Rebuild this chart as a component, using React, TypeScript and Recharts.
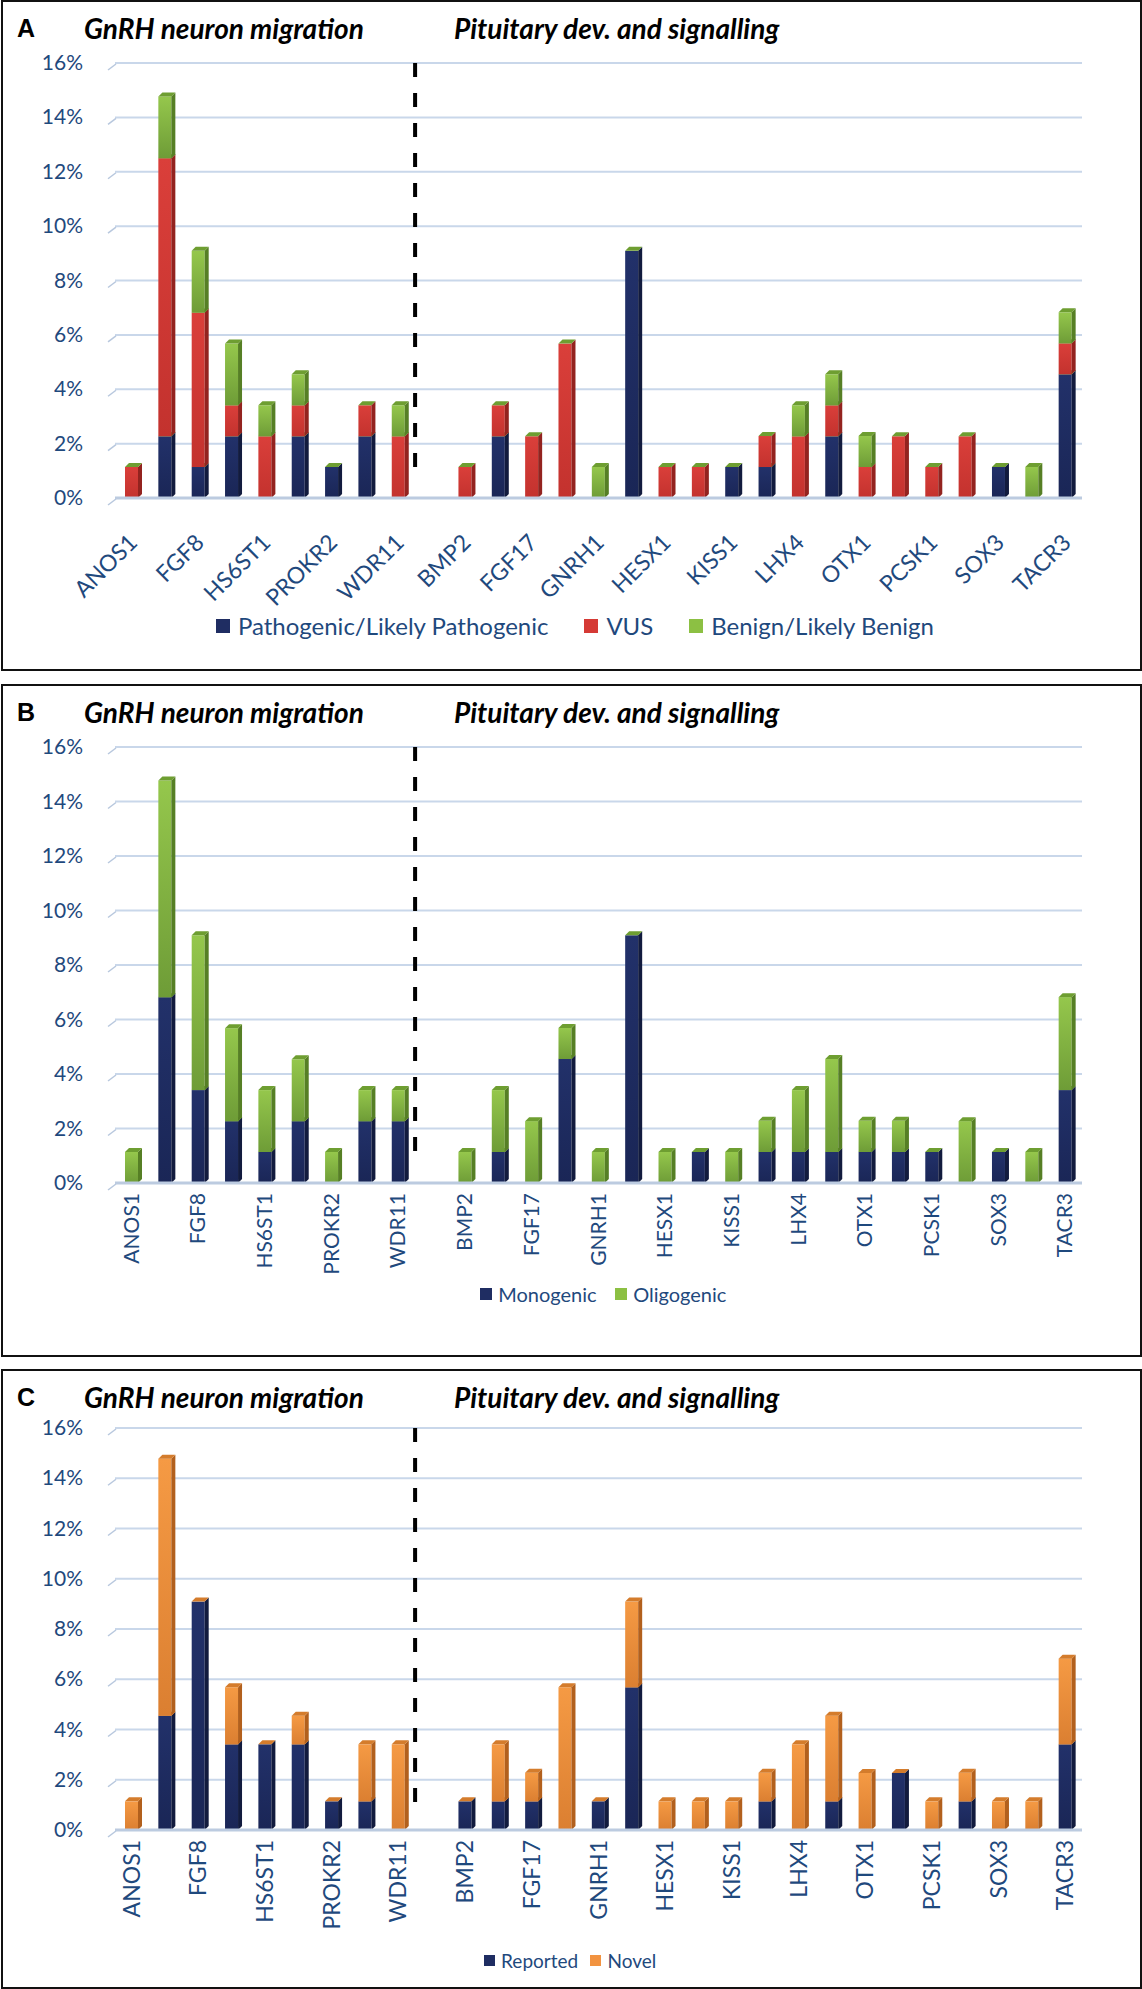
import React from "react";
import { BarChart, Bar, XAxis, YAxis, CartesianGrid, ReferenceLine } from "recharts";

// gene slots, alternate labels are hidden by the axis interval, " " is the gap at the dashed line
const GENES = [
  "ANOS1", "CHD7", "FGF8", "FGFR1", "HS6ST1", "PROK2", "PROKR2", "SEMA3A", "WDR11",
  " ",
  "BMP2", "DMXL2", "FGF17", "FSHB", "GNRH1", "GNRHR", "HESX1", "IGSF1", "KISS1", "KISS1R",
  "LHX4", "NR0B1", "OTX1", "OTX2", "PCSK1", "PROP1", "SOX3", "TAC3", "TACR3",
];
const Y_TICKS = [0, 2, 4, 6, 8, 10, 12, 14, 16];

// panel A
const A_PATHOGENIC = [0, 2.27, 1.14, 2.27, 0, 2.27, 1.14, 2.27, 0, 0, 0, 2.27, 0, 0, 0, 9.09, 0, 0, 1.14, 1.14, 0, 2.27, 0, 0, 0, 0, 1.14, 0, 4.55];
const A_VUS = [1.14, 10.23, 5.68, 1.14, 2.27, 1.14, 0, 1.14, 2.27, 0, 1.14, 1.14, 2.27, 5.68, 0, 0, 1.14, 1.14, 0, 1.14, 2.27, 1.14, 1.14, 2.27, 1.14, 2.27, 0, 0, 1.14];
const A_BENIGN = [0, 2.27, 2.27, 2.27, 1.14, 1.14, 0, 0, 1.14, 0, 0, 0, 0, 0, 1.14, 0, 0, 0, 0, 0, 1.14, 1.14, 1.14, 0, 0, 0, 0, 1.14, 1.14];

// panel B
const B_MONOGENIC = [0, 6.82, 3.41, 2.27, 1.14, 2.27, 0, 2.27, 2.27, 0, 0, 1.14, 0, 4.55, 0, 9.09, 0, 1.14, 0, 1.14, 1.14, 1.14, 1.14, 1.14, 1.14, 0, 1.14, 0, 3.41];
const B_OLIGOGENIC = [1.14, 7.95, 5.68, 3.41, 2.27, 2.27, 1.14, 1.14, 1.14, 0, 1.14, 2.27, 2.27, 1.14, 1.14, 0, 1.14, 0, 1.14, 1.14, 2.27, 3.41, 1.14, 1.14, 0, 2.27, 0, 1.14, 3.41];

// panel C
const C_REPORTED = [0, 4.55, 9.09, 3.41, 3.41, 3.41, 1.14, 1.14, 0, 0, 1.14, 1.14, 1.14, 0, 1.14, 5.68, 0, 0, 0, 1.14, 0, 1.14, 0, 2.27, 0, 1.14, 0, 0, 3.41];
const C_NOVEL = [1.14, 10.23, 0, 2.27, 0, 1.14, 0, 2.27, 3.41, 0, 0, 2.27, 1.14, 5.68, 0, 3.41, 1.14, 1.14, 1.14, 1.14, 3.41, 3.41, 2.27, 0, 1.14, 1.14, 1.14, 1.14, 3.41];

const COLORS = {
  navy: "#1F2D62",
  navySide: "#121B3E",
  red: "#D53A35",
  redSide: "#93231F",
  green: "#8CC043",
  greenSide: "#567F25",
  greenTop: "#6E9E31",
  orange: "#F29340",
  orangeSide: "#B2601D",
  orangeTop: "#D47C2C",
  text: "#1F497D",
  grid: "#C9D7EA",
};

const FONT = "Lato, 'Open Sans', sans-serif";
const DEPTH = 4;

const dataA = GENES.map((gene, i) => ({ gene, pathogenic: A_PATHOGENIC[i], vus: A_VUS[i], benign: A_BENIGN[i] }));
const dataB = GENES.map((gene, i) => ({ gene, monogenic: B_MONOGENIC[i], oligogenic: B_OLIGOGENIC[i] }));
const dataC = GENES.map((gene, i) => ({ gene, reported: C_REPORTED[i], novel: C_NOVEL[i] }));

const SERIES_A = [
  { key: "pathogenic", name: "Pathogenic/Likely Pathogenic", grad: "g-navy", color: COLORS.navy, side: COLORS.navySide },
  { key: "vus", name: "VUS", grad: "g-red", color: COLORS.red, side: COLORS.redSide },
  { key: "benign", name: "Benign/Likely Benign", grad: "g-green", color: COLORS.green, side: COLORS.greenSide },
];
const SERIES_B = [
  { key: "monogenic", name: "Monogenic", grad: "g-navy", color: COLORS.navy, side: COLORS.navySide },
  { key: "oligogenic", name: "Oligogenic", grad: "g-green", color: COLORS.green, side: COLORS.greenSide },
];
const SERIES_C = [
  { key: "reported", name: "Reported", grad: "g-navy", color: COLORS.navy, side: COLORS.navySide },
  { key: "novel", name: "Novel", grad: "g-orange", color: COLORS.orange, side: COLORS.orangeSide },
];

// excel style 3d column: front face, dark side, cap in the colour of the last series
function make3DShape(grad: string, side: string, cap: string) {
  return (props: any) => {
    const { x, y, width, height } = props;
    if (height == null || height <= 0) return <g />;
    const d = DEPTH;
    return (
      <g>
        <rect x={x} y={y} width={width} height={height} fill={`url(#${grad})`} />
        <polygon
          points={`${x + width},${y} ${x + width + d},${y - d} ${x + width + d},${y + height - d} ${x + width},${y + height}`}
          fill={side}
        />
        <polygon points={`${x},${y} ${x + d},${y - d} ${x + width + d},${y - d} ${x + width},${y}`} fill={cap} />
      </g>
    );
  };
}

function PercentTick(props: any) {
  const { x, y, payload } = props;
  return (
    <g>
      <line x1={x + 25} y1={y + 7} x2={x + 33} y2={y + 1} stroke="#B8C8DE" strokeWidth={1.5} />
      <text x={x} y={y} dy={7} textAnchor="end" fontSize={21} fill={COLORS.text} fontFamily={FONT}>
        {payload.value}%
      </text>
    </g>
  );
}

function GeneTick(props: any) {
  const { x, y, payload, angle, size, shift } = props;
  const tx = x + shift;
  return (
    <text
      x={tx}
      y={y}
      transform={`rotate(${angle} ${tx} ${y})`}
      textAnchor="end"
      fontSize={size}
      fill={COLORS.text}
      fontFamily={FONT}
    >
      {payload.value}
    </text>
  );
}

interface PanelProps {
  letter: string;
  top: number;
  height: number;
  plotTop: number;
  plotBottom: number;
  data: any[];
  series: { key: string; name: string; grad: string; color: string; side: string }[];
  cap: string;
  tickAngle: number;
  tickSize: number;
  tickGap: number;
  tickShift: number;
  legendY: number;
  legendCenter: number;
  legendFont: number;
  legendGap: number;
}

function GenePanel(p: PanelProps) {
  const { letter, top, height, plotTop, plotBottom, data, series, cap } = p;
  return (
    <div style={{ position: "absolute", left: 0, top, width: 1142, height }}>
      <div
        style={{
          position: "absolute",
          left: 1,
          top: 0,
          width: 1137,
          height: height - 3,
          border: "2.5px solid #111",
        }}
      />
      <div style={{ position: "absolute", left: 17, top: 14, fontSize: 25, fontWeight: 700, fontFamily: "'Liberation Sans', Arial, sans-serif" }}>
        {letter}
      </div>
      <div style={{ position: "absolute", left: 84, top: 11, fontSize: 28, fontWeight: 700, fontStyle: "italic", fontFamily: FONT }}>
        GnRH neuron migration
      </div>
      <div style={{ position: "absolute", left: 454, top: 11, fontSize: 28, fontWeight: 700, fontStyle: "italic", fontFamily: FONT }}>
        Pituitary dev. and signalling
      </div>
      <div style={{ position: "absolute", left: 0, top: 0 }}>
        <BarChart
          width={1142}
          height={height}
          data={data}
          margin={{ top: plotTop, right: 60, bottom: 0, left: 55 }}
          barSize={13}
        >
          <CartesianGrid vertical={false} stroke={COLORS.grid} strokeWidth={2} />
          <XAxis
            dataKey="gene"
            interval={1}
            tickLine={false}
            tickSize={0}
            tickMargin={p.tickGap}
            axisLine={{ stroke: "#BCCBE0", strokeWidth: 3 }}
            height={height - plotBottom}
            tick={<GeneTick angle={p.tickAngle} size={p.tickSize} shift={p.tickShift} />}
          />
          <YAxis
            domain={[0, 16]}
            ticks={Y_TICKS}
            width={60}
            axisLine={false}
            tickLine={false}
            tickSize={0}
            tickMargin={32}
            tick={<PercentTick />}
          />
          {series.map((s) => (
            <Bar
              key={s.key}
              dataKey={s.key}
              name={s.name}
              stackId="genes"
              fill={s.color}
              shape={make3DShape(s.grad, s.side, cap)}
              isAnimationActive={false}
            />
          ))}
          <ReferenceLine
            segment={[{ x: " ", y: 16 }, { x: " ", y: 1.1 }]}
            position="start"
            stroke="#000"
            strokeWidth={4}
            strokeDasharray="14 16"
            ifOverflow="visible"
          />
        </BarChart>
      </div>
      <div
        style={{
          position: "absolute",
          left: p.legendCenter - 400,
          width: 800,
          top: p.legendY - p.legendFont * 0.7,
          display: "flex",
          justifyContent: "center",
          gap: p.legendGap,
          fontSize: p.legendFont,
          lineHeight: 1.4,
          fontFamily: FONT,
          color: COLORS.text,
        }}
      >
        {series.map((s) => (
          <div key={s.key} style={{ display: "flex", alignItems: "center", gap: p.legendFont * 0.33 }}>
            <span
              style={{
                display: "inline-block",
                width: Math.round(p.legendFont * 0.6),
                height: Math.round(p.legendFont * 0.6),
                background: s.color,
              }}
            />
            <span>{s.name}</span>
          </div>
        ))}
      </div>
    </div>
  );
}

export default function App() {
  return (
    <div style={{ position: "absolute", left: 0, top: 0, width: 1142, height: 1989, background: "#fff" }}>
      <svg width={0} height={0} style={{ position: "absolute" }}>
        <defs>
          <linearGradient id="g-navy" x1="0" y1="0" x2="0" y2="1">
            <stop offset="0" stopColor="#22316A" />
            <stop offset="1" stopColor="#1A2656" />
          </linearGradient>
          <linearGradient id="g-red" x1="0" y1="0" x2="0" y2="1">
            <stop offset="0" stopColor="#DA3F3A" />
            <stop offset="1" stopColor="#C3322E" />
          </linearGradient>
          <linearGradient id="g-green" x1="0" y1="0" x2="0" y2="1">
            <stop offset="0" stopColor="#95C74C" />
            <stop offset="1" stopColor="#6E9C37" />
          </linearGradient>
          <linearGradient id="g-orange" x1="0" y1="0" x2="0" y2="1">
            <stop offset="0" stopColor="#F59A44" />
            <stop offset="1" stopColor="#DB7F31" />
          </linearGradient>
        </defs>
      </svg>
      <GenePanel
        letter="A"
        top={0}
        height={670}
        plotTop={63}
        plotBottom={498}
        data={dataA}
        series={SERIES_A}
        cap={COLORS.greenTop}
        tickAngle={-45}
        tickSize={23}
        tickGap={46}
        tickShift={7}
        legendY={626}
        legendCenter={575}
        legendFont={24}
        legendGap={36}
      />
      <GenePanel
        letter="B"
        top={684}
        height={672}
        plotTop={63}
        plotBottom={499}
        data={dataB}
        series={SERIES_B}
        cap={COLORS.greenTop}
        tickAngle={-90}
        tickSize={21}
        tickGap={10}
        tickShift={7}
        legendY={610}
        legendCenter={603}
        legendFont={20}
        legendGap={18}
      />
      <GenePanel
        letter="C"
        top={1369}
        height={619}
        plotTop={59}
        plotBottom={461}
        data={dataC}
        series={SERIES_C}
        cap={COLORS.orangeTop}
        tickAngle={-90}
        tickSize={23}
        tickGap={10}
        tickShift={8}
        legendY={592}
        legendCenter={570}
        legendFont={19}
        legendGap={12}
      />
    </div>
  );
}
